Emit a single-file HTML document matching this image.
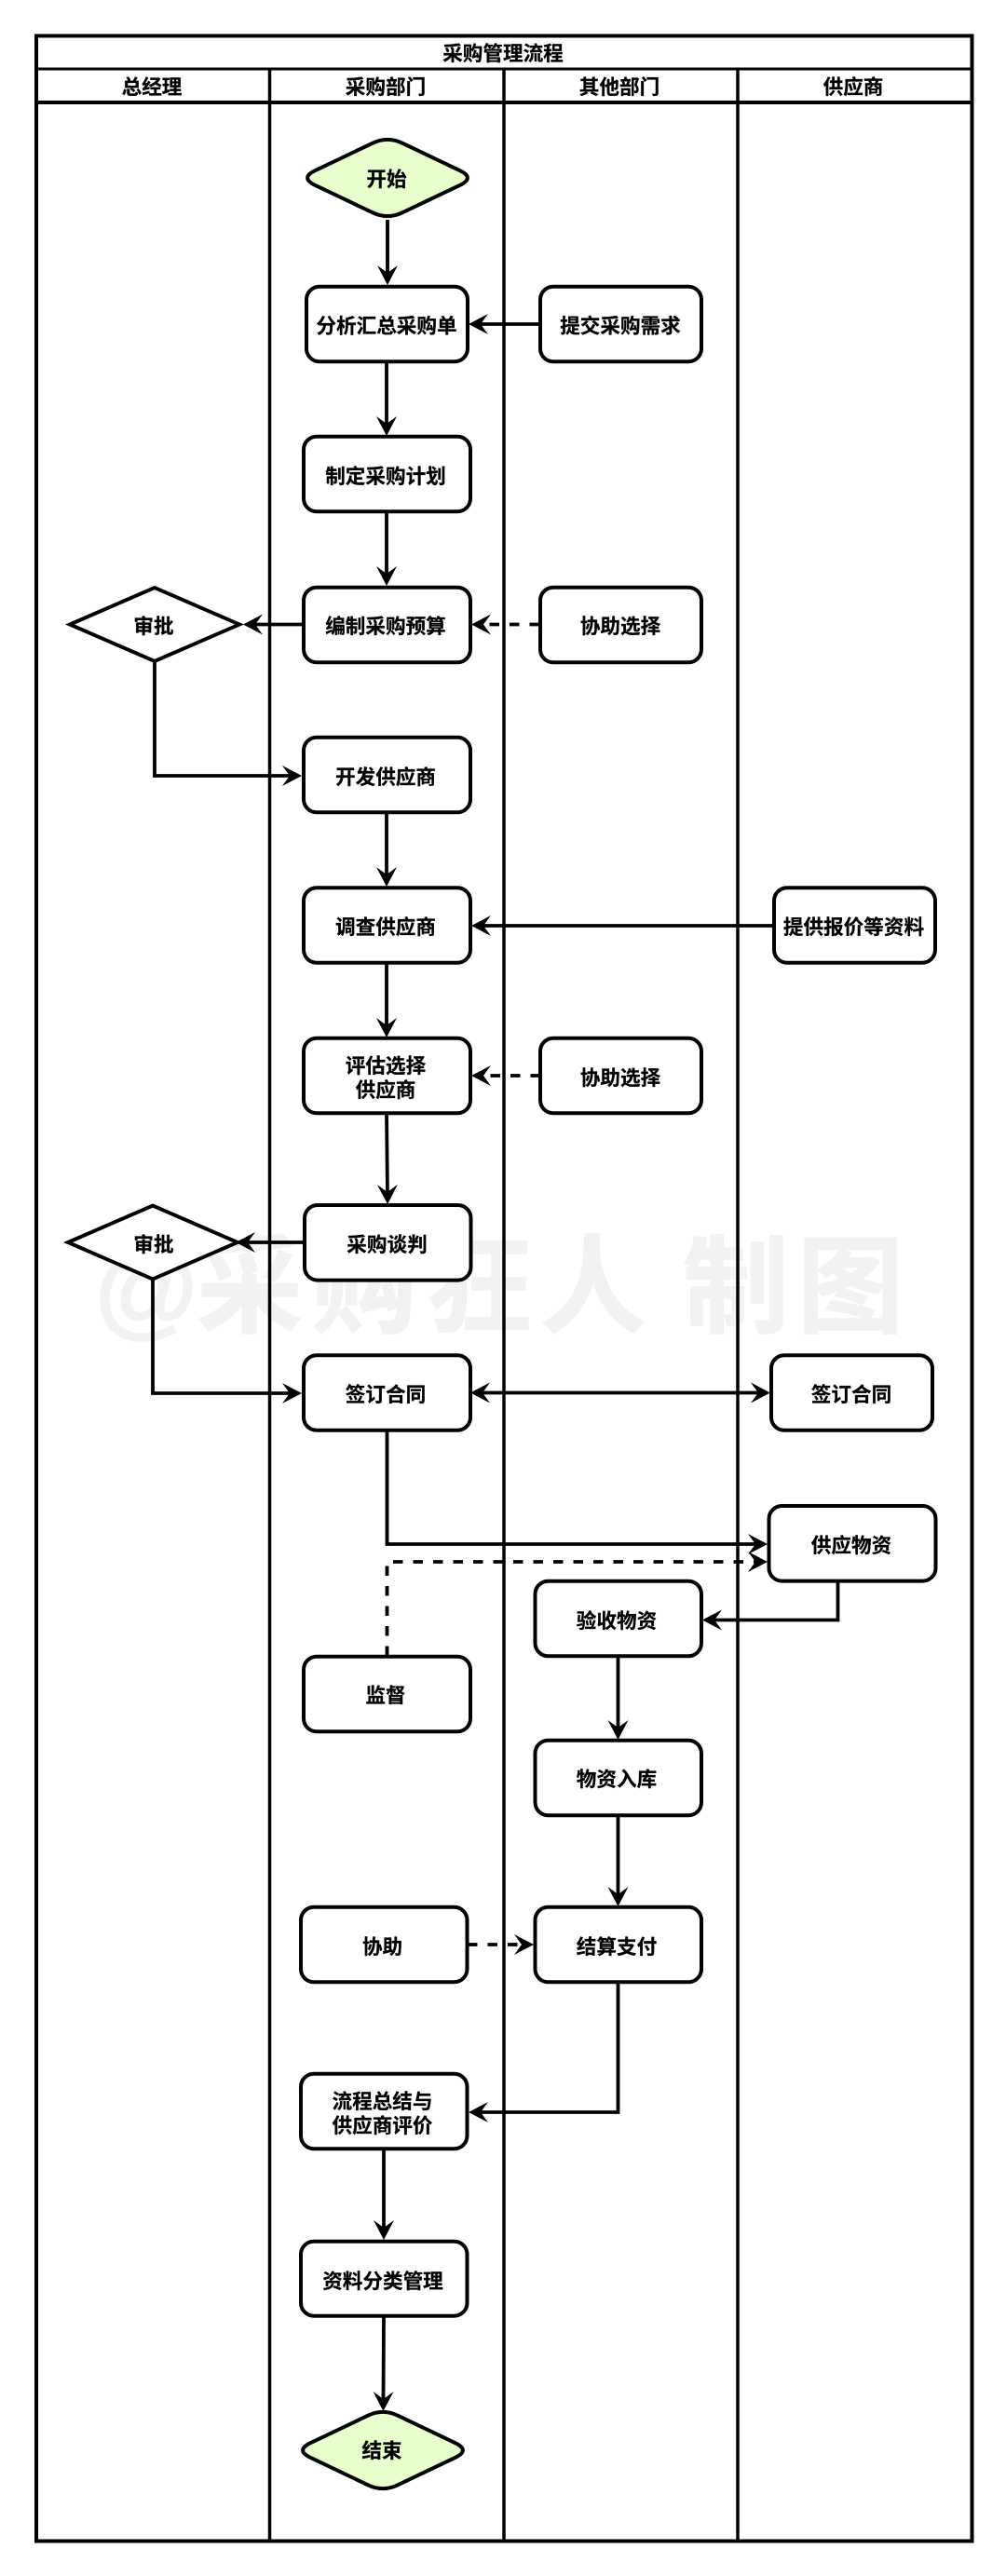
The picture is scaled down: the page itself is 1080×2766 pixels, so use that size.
<!DOCTYPE html>
<html lang="zh">
<head>
<meta charset="utf-8">
<title>采购管理流程</title>
<style>
html,body{margin:0;padding:0;background:#fff;}
svg{display:block;}
text{font-family:"Liberation Sans","Noto Sans CJK SC",sans-serif;font-weight:bold;font-size:21.6px;fill:#000;stroke:#000;stroke-width:.25;text-anchor:middle;}
text.wm{font-size:114px;fill:#f2f2f2;stroke:#f2f2f2;stroke-width:1.5;}
.f{fill:none;stroke:#000;stroke-width:3.5;}
.n{fill:#fff;stroke:#000;stroke-width:4;}
.g{fill:#e6ffcc;stroke:#000;stroke-width:4;}
.a{fill:none;stroke:#000;stroke-width:3.8;marker-end:url(#h);}
.d{fill:none;stroke:#000;stroke-width:3.8;stroke-dasharray:10.5 11;marker-end:url(#h);}
</style>
</head>
<body>
<svg xmlns="http://www.w3.org/2000/svg" width="1080" height="2766" viewBox="0 0 1080 2766">
<defs>
<marker id="h" markerUnits="userSpaceOnUse" markerWidth="24" markerHeight="24" refX="10" refY="12" orient="auto-start-reverse">
<path d="M0,1 L21,12 L0,23 L8,12 Z" fill="#000"/>
</marker>
</defs>
<rect width="1080" height="2766" fill="#fff"/>
<text class="wm" y="1422" x="157 268 391 514 637 700 790 913">@采购狂人 制图</text>

<!-- frame -->
<rect x="39" y="38.5" width="1004.5" height="2690" fill="none" stroke="#000" stroke-width="4"/>
<path d="M39,74 H1043.5" class="f" style="stroke-width:3"/>
<path d="M39,110 H1043.5" class="f" style="stroke-width:4"/>
<path d="M289.5,74 V2728 M541,74 V2728 M792,74 V2728" class="f"/>
<text x="540" y="65">采购管理流程</text>
<text x="163" y="101">总经理</text>
<text x="414" y="101">采购部门</text>
<text x="665" y="101">其他部门</text>
<text x="916" y="101">供应商</text>

<!-- connectors -->
<path class="a" d="M416,236 V295"/>
<path class="a" d="M579.5,348 H514"/>
<path class="a" d="M415,389 V457"/>
<path class="a" d="M415,550 V618"/>
<path class="a" d="M325,670.5 H272"/>
<path class="d" d="M579,670.5 H517"/>
<path class="a" d="M166,709.5 V833 H313"/>
<path class="a" d="M415,873 V941"/>
<path class="a" d="M831,994 H517"/>
<path class="a" d="M415,1035 V1103"/>
<path class="d" d="M580,1155 H517"/>
<path class="a" d="M415,1196 L416,1282"/>
<path class="a" d="M326,1334 H264"/>
<path class="a" d="M164,1373 V1496 H313"/>
<path class="a" style="marker-start:url(#h)" d="M516,1495.5 H816"/>
<path class="a" d="M415.5,1537 V1658 H813"/>
<path class="d" d="M415.5,1778 V1677 H813"/>
<path class="a" d="M899.5,1698 V1739.5 H765"/>
<path class="a" d="M663.5,1779 V1857"/>
<path class="a" d="M663.5,1949 V2036"/>
<path class="d" d="M502,2088 H562"/>
<path class="a" d="M663.5,2129 V2268 H514"/>
<path class="a" d="M412,2308 V2394"/>
<path class="a" d="M412,2487 L411.5,2578"/>

<!-- start / end -->
<path class="g" d="M338.2,183.2 Q322,191 338.2,198.8 L399.8,228.2 Q416,236 432.2,228.2 L493.8,198.8 Q510,191 493.8,183.2 L432.2,153.8 Q416,146 399.8,153.8 Z"/>
<path class="g" d="M333.2,2623.2 Q317,2631 333.2,2638.8 L394.8,2668.2 Q411,2676 427.2,2668.2 L488.8,2638.8 Q505,2631 488.8,2623.2 L427.2,2593.8 Q411,2586 394.8,2593.8 Z"/>

<!-- approval diamonds -->
<polygon class="n" points="75,670.5 166,631 257,670.5 166,710"/>
<polygon class="n" points="73,1334 164,1294.5 255,1334 164,1373.5"/>

<!-- boxes -->
<rect class="n" rx="14" x="329" y="307.7" width="173" height="80.6"/>
<rect class="n" rx="14" x="580" y="307.7" width="173" height="80.6"/>
<rect class="n" rx="14" x="326" y="468.7" width="179" height="80.6"/>
<rect class="n" rx="14" x="326" y="630.7" width="179" height="80.6"/>
<rect class="n" rx="14" x="580" y="630.7" width="173" height="80.6"/>
<rect class="n" rx="14" x="326" y="791.7" width="179" height="80.6"/>
<rect class="n" rx="14" x="326" y="953.2" width="179" height="80.6"/>
<rect class="n" rx="14" x="831" y="953.2" width="173" height="80.6"/>
<rect class="n" rx="14" x="326" y="1114.7" width="179" height="80.6"/>
<rect class="n" rx="14" x="580" y="1114.7" width="173" height="80.6"/>
<rect class="n" rx="14" x="327" y="1294" width="178.5" height="80.6"/>
<rect class="n" rx="14" x="326" y="1455.2" width="179" height="80.6"/>
<rect class="n" rx="14" x="828" y="1455.2" width="173" height="80.6"/>
<rect class="n" rx="14" x="825.5" y="1617" width="179" height="80.6"/>
<rect class="n" rx="14" x="574.5" y="1697.7" width="178.5" height="80.6"/>
<rect class="n" rx="14" x="326" y="1778.7" width="179" height="80.6"/>
<rect class="n" rx="14" x="574.5" y="1868.7" width="178.5" height="80.6"/>
<rect class="n" rx="14" x="574.5" y="2047.7" width="178.5" height="80.6"/>
<rect class="n" rx="14" x="323" y="2047.7" width="178.5" height="80.6"/>
<rect class="n" rx="14" x="323" y="2226.7" width="178.5" height="80.6"/>
<rect class="n" rx="14" x="323" y="2406.7" width="178.5" height="80"/>

<!-- labels -->
<text x="415" y="200">开始</text>
<text x="415" y="357.5">分析汇总采购单</text>
<text x="666" y="357.5">提交采购需求</text>
<text x="414" y="519">制定采购计划</text>
<text x="414" y="680">编制采购预算</text>
<text x="666" y="680">协助选择</text>
<text x="165" y="680">审批</text>
<text x="414" y="842">开发供应商</text>
<text x="414" y="1003">调查供应商</text>
<text x="916.5" y="1003">提供报价等资料</text>
<text x="414" y="1152">评估选择</text>
<text x="414" y="1178">供应商</text>
<text x="666" y="1165">协助选择</text>
<text x="415.5" y="1344">采购谈判</text>
<text x="165" y="1344">审批</text>
<text x="414" y="1505">签订合同</text>
<text x="914" y="1505">签订合同</text>
<text x="914" y="1667">供应物资</text>
<text x="662" y="1748">验收物资</text>
<text x="414" y="1828">监督</text>
<text x="662" y="1918">物资入库</text>
<text x="662" y="2098">结算支付</text>
<text x="410.5" y="2098">协助</text>
<text x="410.5" y="2264">流程总结与</text>
<text x="410.5" y="2290">供应商评价</text>
<text x="411" y="2457">资料分类管理</text>
<text x="410" y="2639">结束</text>
</svg>
</body>
</html>
